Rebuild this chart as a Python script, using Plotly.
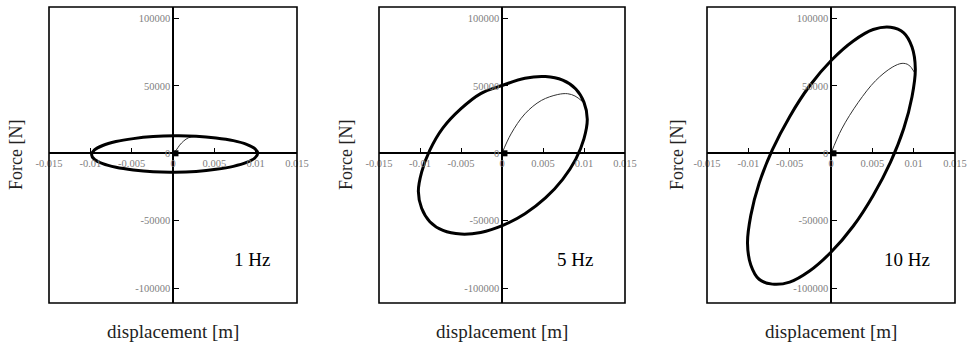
import plotly.graph_objects as go

# ---- steady-state hysteresis loops (displacement [m], force [N]) ----
disp_1hz = [0.0002, 0.0028, 0.0052, 0.0073, 0.0089, 0.0099, 0.01025, 0.0099, 0.0089,
            0.0073, 0.0052, 0.0028, 0.0002, -0.0024, -0.0048, -0.0069, -0.0085, -0.0095,
            -0.00985, -0.0095, -0.0085, -0.0069, -0.0048, -0.0024, 0.0002]
force_1hz = [13000, 12700, 11400, 9400, 6700, 3500, 0, -3500, -6800,
             -9700, -11900, -13400, -14000, -13700, -12400, -10400, -7700, -4500,
             -1000, 2500, 5800, 8700, 10900, 12400, 13000]

disp_5hz = [0.0001, 0.0028, 0.0053, 0.0074, 0.0090, 0.0100, 0.0104, 0.0100, 0.0090,
            0.0074, 0.0053, 0.0028, 0.0001, -0.0026, -0.0050, -0.0072, -0.0088, -0.0098,
            -0.0102, -0.0098, -0.0088, -0.0072, -0.0050, -0.0026, 0.0001]
force_5hz = [50500, 55700, 56900, 54200, 47700, 37800, 25300, 10900, -4300,
             -19300, -33100, -44800, -53500, -58700, -59900, -57200, -50700, -40800,
             -28300, -13900, 2300, 18800, 33100, 44300, 50500]

disp_10hz = [0.00005, 0.0027, 0.0051, 0.0072, 0.0088, 0.0098, 0.0102, 0.0098, 0.0088,
             0.0072, 0.0051, 0.0027, 0.00005, -0.0026, -0.0050, -0.0071, -0.0087, -0.0097,
             -0.0101, -0.0097, -0.0087, -0.0071, -0.0050, -0.0026, 0.00005]
force_10hz = [69000, 83300, 91800, 93500, 89400, 78800, 62600, 42000, 18400,
              -6500, -31200, -53900, -73000, -87300, -95500, -97000, -93400, -82800,
              -66600, -46000, -22400, 2500, 27200, 49900, 69000]

# ---- start-up transients from rest ----
disp_1hz_start = [0.0, 0.0004, 0.0008, 0.0013, 0.0019, 0.0028]
force_1hz_start = [0, 2500, 6000, 9200, 11600, 12700]

disp_5hz_start = [0.0, 0.0011, 0.0028, 0.0048, 0.0068, 0.0080, 0.0089, 0.0098]
force_5hz_start = [0, 14400, 29300, 39200, 43600, 44200, 42500, 38500]

disp_10hz_start = [0.0, 0.0013, 0.0033, 0.0054, 0.0074, 0.0086, 0.0094, 0.0101]
force_10hz_start = [0, 18100, 37800, 53900, 63800, 66700, 65500, 60000]

freq_labels = ["1 Hz", "5 Hz", "10 Hz"]

x_tickvals = [-0.015, -0.01, -0.005, 0, 0.005, 0.01, 0.015]
x_ticktext = ["-0.015", "-0.01", "-0.005", "0", "0.005", "0.01", "0.015"]
y_tickvals = [-100000, -50000, 0, 50000, 100000]
y_ticktext = ["-100000", "-50000", "0", "50000", "100000"]

loops = [(disp_1hz, force_1hz), (disp_5hz, force_5hz), (disp_10hz, force_10hz)]
starts = [(disp_1hz_start, force_1hz_start), (disp_5hz_start, force_5hz_start),
          (disp_10hz_start, force_10hz_start)]

W, H = 969, 347
x_range = [-0.015, 0.015]
y_range = [-111000, 108500]
panel_px = [(49, 297), (379, 625), (707, 955)]
ytitle_px = [16, 346, 677]
hz_px = [252, 575, 907]
top_px, bot_px = 7, 303
ydom = [1 - bot_px / H, 1 - top_px / H]

serif = "Liberation Serif, Times New Roman, serif"
fig = go.Figure()
layout = {}
shapes = []
annotations = []

for i, ((lx, ly), (sx, sy)) in enumerate(zip(loops, starts)):
    n = "" if i == 0 else str(i + 1)
    xa, ya = "x" + n, "y" + n
    x0, x1 = panel_px[i][0] / W, panel_px[i][1] / W

    fig.add_trace(go.Scatter(x=sx, y=sy, mode="lines", xaxis=xa, yaxis=ya,
                             line=dict(color="#333333", width=1, shape="spline"),
                             showlegend=False, hoverinfo="skip"))
    fig.add_trace(go.Scatter(x=lx, y=ly, mode="lines", xaxis=xa, yaxis=ya,
                             line=dict(color="black", width=3, shape="spline", smoothing=1.0),
                             showlegend=False))
    fig.add_trace(go.Scatter(x=[0.0003], y=[0], mode="markers", xaxis=xa, yaxis=ya,
                             marker=dict(symbol="square", size=6, color="black"),
                             showlegend=False, hoverinfo="skip"))

    # axes drawn through the origin
    ypos_frac = (0 - y_range[0]) / (y_range[1] - y_range[0])
    xpos_frac = (0 - x_range[0]) / (x_range[1] - x_range[0])
    tickfont = dict(family=serif, size=10.5, color="#808080")
    layout["xaxis" + n] = dict(
        domain=[x0, x1], range=x_range, anchor="free", automargin=False,
        position=ydom[0] + ypos_frac * (ydom[1] - ydom[0]),
        showline=True, linecolor="black", linewidth=1.5,
        ticks="inside", ticklen=5, tickcolor="black", tickwidth=1.2,
        tickvals=x_tickvals, ticktext=x_ticktext, tickfont=tickfont,
        showgrid=False, zeroline=False, fixedrange=True)
    layout["yaxis" + n] = dict(
        domain=ydom, range=y_range, anchor="free", automargin=False,
        position=x0 + xpos_frac * (x1 - x0),
        showline=True, linecolor="black", linewidth=1.5,
        ticks="inside", ticklen=5, tickcolor="black", tickwidth=1.2,
        tickvals=y_tickvals, ticktext=y_ticktext, tickfont=tickfont,
        showgrid=False, zeroline=False, fixedrange=True)

    # frame around each panel
    shapes.append(dict(type="rect", xref="paper", yref="paper",
                       x0=x0, x1=x1, y0=ydom[0], y1=ydom[1],
                       line=dict(color="black", width=1.6)))

    # axis titles and frequency label
    cx = (panel_px[i][0] + panel_px[i][1]) / 2 / W
    annotations.append(dict(text="displacement [m]", xref="paper", yref="paper",
                            x=cx, y=1 - 331 / H, xanchor="center", yanchor="middle",
                            showarrow=False,
                            font=dict(family=serif, size=19, color="#222222")))
    annotations.append(dict(text="Force [N]", xref="paper", yref="paper",
                            x=ytitle_px[i] / W, y=1 - 155 / H, textangle=-90,
                            xanchor="center", yanchor="middle", showarrow=False,
                            font=dict(family=serif, size=18, color="#222222")))
    annotations.append(dict(text=freq_labels[i], xref="paper", yref="paper",
                            x=hz_px[i] / W, y=1 - 259 / H,
                            xanchor="center", yanchor="middle", showarrow=False,
                            font=dict(family=serif, size=19, color="black")))

fig.update_layout(width=W, height=H, margin=dict(l=0, r=0, t=0, b=0),
                  paper_bgcolor="white", plot_bgcolor="white",
                  shapes=shapes, annotations=annotations, **layout)

fig.write_html("out.html")
